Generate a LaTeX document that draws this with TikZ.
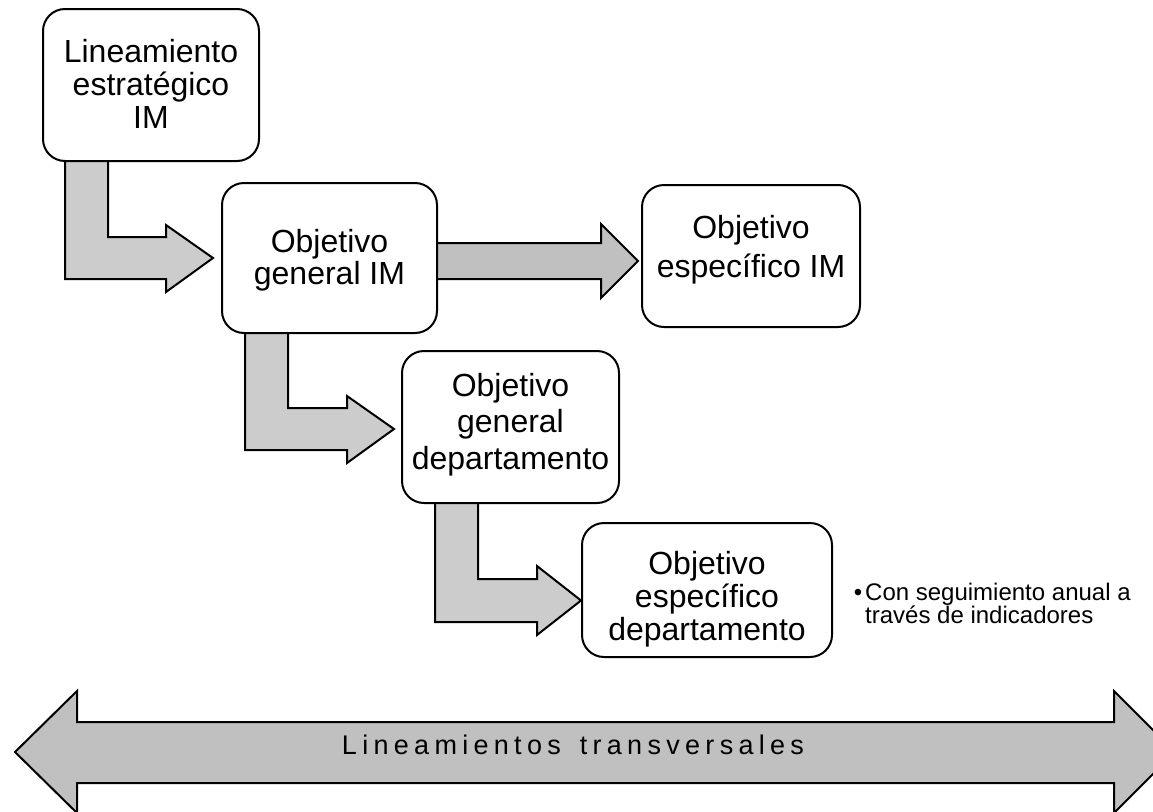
\documentclass[tikz,border=0pt]{standalone}
\usepackage{fontspec}
\setmainfont{Liberation Sans}
\definecolor{bentgray}{HTML}{CCCCCC}
\definecolor{arrgray}{HTML}{C0C0C0}
\newcommand\trk[1]{\trkloop#1\relax}
\def\trkloop#1#2{#1\ifx\relax#2\else\kern5.3pt\expandafter\trkloop\expandafter#2\fi}
\begin{document}
\begin{tikzpicture}[x=1pt,y=-1pt,
  box/.style={draw, line width=2pt, fill=white, rounded corners=22pt, inner sep=0pt},
  bent/.style={draw, line width=2pt, fill=bentgray, line join=miter},
  flat/.style={draw, line width=2pt, fill=arrgray, line join=miter},
  txt/.style={align=center, inner sep=0pt, font=\fontsize{32}{34}\selectfont}]
\useasboundingbox (0,0) rectangle (1153,811);
\clip (0,0) rectangle (1153,811);
% transversal double arrow
\draw[flat] (15,752) -- (77,691) -- (77,722) -- (1114,722) -- (1114,691) -- (1175,752)
  -- (1114,813) -- (1114,783) -- (77,783) -- (77,813) -- cycle;
\node[inner sep=0pt, font=\fontsize{27}{29}\selectfont] (trans) at (573,745)
  {\trk{Lineamientos}\kern19pt\trk{transversales}};
% bent arrows
\draw[bent] (65,150) -- (108,150) -- (108,237) -- (166,237) -- (166,225) -- (213,258)
  -- (166,292) -- (166,279) -- (65,279) -- cycle;
\draw[bent] (245,320) -- (288,320) -- (288,408) -- (347,408) -- (347,396) -- (394,429)
  -- (347,463) -- (347,450) -- (245,450) -- cycle;
\draw[bent] (435,490) -- (478,490) -- (478,579) -- (537,579) -- (537,566) -- (581,600.5)
  -- (537,635) -- (537,622) -- (435,622) -- cycle;
% straight arrow
\draw[flat] (430,243) -- (601,243) -- (601,224) -- (638,261) -- (601,298) -- (601,279)
  -- (430,279) -- cycle;
% boxes
\node[box, minimum width=216pt, minimum height=152pt] (b1) at (151,85) {};
\node[box, minimum width=215pt, minimum height=150pt] (b2) at (329.5,258) {};
\node[box, minimum width=218pt, minimum height=142pt] (b3) at (751,256) {};
\node[box, minimum width=217pt, minimum height=152pt] (b4) at (510.5,427) {};
\node[box, minimum width=250pt, minimum height=134pt] (b5) at (707,590) {};
% texts
\node[txt, font=\fontsize{32}{33}\selectfont] (t1) at (151,84) {Lineamiento\\estratégico\\IM};
\node[txt, font=\fontsize{32}{32}\selectfont] (t2) at (329.5,260) {Objetivo\\general IM};
\node[txt, font=\fontsize{32}{39}\selectfont] (t3) at (751,250) {Objetivo\\específico IM};
\node[txt, font=\fontsize{32}{36.5}\selectfont] (t4) at (510.5,424.5) {Objetivo\\general\\departamento};
\node[txt, font=\fontsize{32}{33}\selectfont] (t5) at (707,599.5) {Objetivo\\específico\\departamento};
\node[anchor=north west, align=left, inner sep=0pt, font=\fontsize{24}{23}\selectfont] (note)
  at (865,582.5) {\llap{\textbullet\kern3pt}Con seguimiento anual a\\través de indicadores};
\end{tikzpicture}
\end{document}
